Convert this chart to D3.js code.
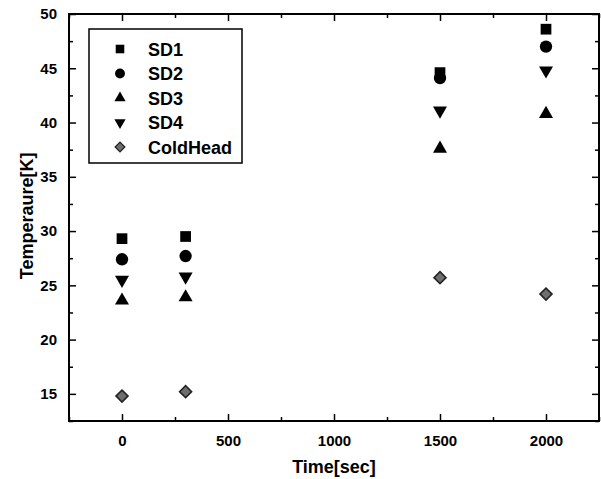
<!DOCTYPE html>
<meta charset="utf-8">
<script src="https://d3js.org/d3.v7.min.js"></script>
<style>
  body { margin: 0; background: #fff; }
  text { font-family: "Liberation Sans", Arial, sans-serif; font-weight: bold; }
</style>
<div id="chart"></div>
<script>
// data
var times = [0, 300, 1500, 2000];
var seriesNames = ["SD1", "SD2", "SD3", "SD4", "ColdHead"];
var sd1 = [29.3, 29.5, 44.6, 48.6];
var sd2 = [27.4, 27.7, 44.1, 47.0];
var sd3 = [23.6, 23.9, 37.6, 40.8];
var sd4 = [25.5, 25.8, 41.1, 44.8];
var coldHead = [14.8, 15.2, 25.7, 24.2];
var xTicks = [0, 500, 1000, 1500, 2000];
var yTicks = [15, 20, 25, 30, 35, 40, 45, 50];

var W = 601, H = 479;
var margin = {top: 14, right: 2, bottom: 58, left: 69},
    width = W - margin.left - margin.right,
    height = H - margin.top - margin.bottom;

var svg = d3.select("#chart")
  .append("svg")
  .attr("width", W)
  .attr("height", H)
  .append("g")
  .attr("transform", `translate(${margin.left},${margin.top})`);

var x = d3.scaleLinear().domain([-250, 2250]).range([0, width]);
var y = d3.scaleLinear().domain([12.5, 50]).range([height, 0]);

var xMinor = d3.range(-250, 2251, 250).filter(d => xTicks.indexOf(d) < 0);
var yMinor = d3.range(12.5, 50, 2.5).filter(d => yTicks.indexOf(d) < 0);

// axes: ticks point inward on all four sides
function styleAxis(g) {
  g.select(".domain").remove();
  g.selectAll("line").attr("stroke", "#000").attr("stroke-width", 1.5);
  g.selectAll("text").attr("fill", "#000").style("font-size", "15px");
}

svg.append("g")
  .attr("transform", `translate(0,${height})`)
  .call(d3.axisBottom(x).tickValues(xTicks).tickSize(-7).tickPadding(14).tickFormat(d3.format("d")))
  .call(styleAxis);
svg.append("g")
  .attr("transform", `translate(0,${height})`)
  .call(d3.axisBottom(x).tickValues(xMinor).tickSize(-4).tickFormat(""))
  .call(styleAxis);
svg.append("g")
  .call(d3.axisTop(x).tickValues(xTicks).tickSize(-7).tickFormat(""))
  .call(styleAxis);
svg.append("g")
  .call(d3.axisTop(x).tickValues(xMinor).tickSize(-4).tickFormat(""))
  .call(styleAxis);

svg.append("g")
  .call(d3.axisLeft(y).tickValues(yTicks).tickSize(-7).tickPadding(12))
  .call(styleAxis);
svg.append("g")
  .call(d3.axisLeft(y).tickValues(yMinor).tickSize(-4).tickFormat(""))
  .call(styleAxis);
svg.append("g")
  .attr("transform", `translate(${width},0)`)
  .call(d3.axisRight(y).tickValues(yTicks).tickSize(-7).tickFormat(""))
  .call(styleAxis);
svg.append("g")
  .attr("transform", `translate(${width},0)`)
  .call(d3.axisRight(y).tickValues(yMinor).tickSize(-4).tickFormat(""))
  .call(styleAxis);

// frame
svg.append("rect")
  .attr("width", width).attr("height", height)
  .attr("fill", "none").attr("stroke", "#000").attr("stroke-width", 2);

// axis titles
svg.append("text")
  .attr("x", x(1000)).attr("y", height + 52)
  .attr("text-anchor", "middle")
  .style("font-size", "18px")
  .text("Time[sec]");
svg.append("text")
  .attr("transform", `translate(${-36},${y(31.4)}) rotate(-90)`)
  .attr("text-anchor", "middle")
  .style("font-size", "18px")
  .text("Temperaure[K]");

// markers
var markers = {
  SD1: {type: d3.symbolSquare, size: 115, rot: 0, fill: "#000", stroke: "none"},
  SD2: {type: d3.symbolCircle, size: 120, rot: 0, fill: "#000", stroke: "none"},
  SD3: {type: d3.symbolTriangle, size: 85, rot: 0, fill: "#000", stroke: "none"},
  SD4: {type: d3.symbolTriangle, size: 85, rot: 180, fill: "#000", stroke: "none"},
  ColdHead: {type: d3.symbolSquare, size: 72, rot: 45, fill: "#6e6e6e", stroke: "#222"}
};
var values = {SD1: sd1, SD2: sd2, SD3: sd3, SD4: sd4, ColdHead: coldHead};

function drawMarker(sel, name) {
  var m = markers[name];
  sel.attr("d", d3.symbol().type(m.type).size(m.size)())
    .attr("fill", m.fill)
    .attr("stroke", m.stroke)
    .attr("stroke-width", 1.6);
}

seriesNames.forEach(function(name) {
  var m = markers[name];
  svg.append("g")
    .selectAll("path")
    .data(times.map((t, i) => ({t: t, v: values[name][i]})))
    .join("path")
    .attr("transform", d => `translate(${x(d.t)},${y(d.v)}) rotate(${m.rot})`)
    .call(drawMarker, name);
});

// legend
var legend = svg.append("g").attr("transform", "translate(20,15)");
legend.append("rect")
  .attr("width", 153).attr("height", 134)
  .attr("fill", "#fff").attr("stroke", "#000").attr("stroke-width", 1.5);
seriesNames.forEach(function(name, i) {
  var m = markers[name];
  var row = legend.append("g").attr("transform", `translate(0,${20 + i * 24.5})`);
  row.append("path")
    .attr("transform", `translate(31,0) rotate(${m.rot}) scale(0.8)`)
    .call(drawMarker, name);
  row.append("text")
    .attr("x", 59).attr("y", 6.5)
    .style("font-size", "18px")
    .text(name);
});
</script>
